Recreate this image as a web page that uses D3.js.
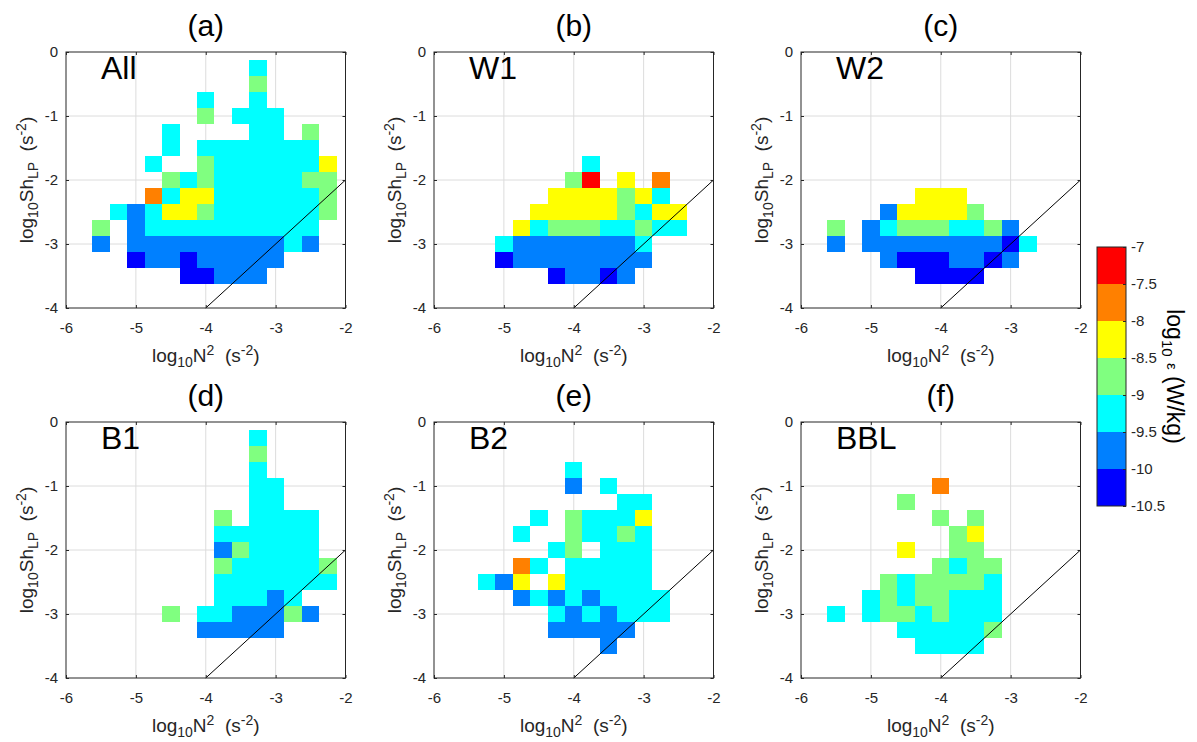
<!DOCTYPE html>
<html>
<head>
<meta charset="utf-8">
<script src="https://cdn.jsdelivr.net/npm/d3@7"></script>
<style>
  body { margin: 0; background: #fff; }
  svg { font-family: "Liberation Sans", Arial, Helvetica, sans-serif; }
  text { white-space: pre; }
</style>
</head>
<body>
<svg id="chart" width="1197" height="742"></svg>
<script>
const _ = null;

// bin centres, bins are 0.25 wide
const n2Bins = [-5.5, -5.25, -5, -4.75, -4.5, -4.25, -4, -3.75, -3.5, -3.25, -3, -2.75, -2.5, -2.25];
const shBins = [-0.25, -0.5, -0.75, -1, -1.25, -1.5, -1.75, -2, -2.25, -2.5, -2.75, -3, -3.25, -3.5];
const none = [_,_,_,_,_,_,_,_,_,_,_,_,_,_];

// log10 epsilon per bin, rows follow shBins, columns follow n2Bins
const epsAll = [
  [_,_,_,_,_,_,_,_,_,-9.2,_,_,_,_],
  [_,_,_,_,_,_,_,_,_,-8.8,_,_,_,_],
  [_,_,_,_,_,_,-9.2,_,_,-9.2,_,_,_,_],
  [_,_,_,_,_,_,-8.8,_,-9.2,-9.2,-9.2,_,_,_],
  [_,_,_,_,-9.2,_,_,_,_,-9.2,-9.2,_,-8.8,_],
  [_,_,_,_,-9.2,_,-9.2,-9.2,-9.2,-9.2,-9.2,-9.2,-9.2,_],
  [_,_,_,-9.2,_,_,-8.8,-9.2,-9.2,-9.2,-9.2,-9.2,-9.2,-8.2],
  [_,_,_,_,-8.8,-9.2,-8.8,-9.2,-9.2,-9.2,-9.2,-9.2,-8.8,-8.8],
  [_,_,_,-7.8,-9.2,-8.2,-8.2,-9.2,-9.2,-9.2,-9.2,-9.2,-9.2,-8.8],
  [_,-9.2,-9.8,-9.2,-8.2,-8.2,-8.8,-9.2,-9.2,-9.2,-9.2,-9.2,-9.2,-8.8],
  [-8.8,_,-9.8,-9.2,-9.2,-9.2,-9.2,-9.2,-9.2,-9.2,-9.2,-9.2,-9.2,_],
  [-9.8,_,-9.8,-9.8,-9.8,-9.8,-9.8,-9.8,-9.8,-9.8,-9.8,-9.2,-9.8,_],
  [_,_,-10.2,-9.8,-9.8,-10.2,-9.8,-9.8,-9.8,-9.8,-9.8,_,_,_],
  [_,_,_,_,_,-10.2,-10.2,-9.8,-9.8,-9.8,_,_,_,_]
];

const epsW1 = [
  none, none, none, none, none, none,
  [_,_,_,_,_,_,_,-9.2,_,_,_,_,_,_],
  [_,_,_,_,_,_,-8.8,-7.2,_,-8.2,_,-7.8,_,_],
  [_,_,_,_,_,-8.2,-8.2,-8.2,-8.2,-8.8,-8.2,-9.2,_,_],
  [_,_,_,_,-8.2,-8.2,-8.2,-8.2,-8.2,-8.8,-9.2,-8.2,-8.2,_],
  [_,_,_,-8.2,-9.2,-8.8,-8.8,-8.8,-9.2,-9.2,-8.8,-9.2,-9.2,_],
  [_,_,-9.2,-9.8,-9.8,-9.8,-9.8,-9.8,-9.8,-9.8,-9.2,_,_,_],
  [_,_,-10.2,-9.8,-9.8,-9.8,-9.8,-9.8,-9.8,-9.8,-9.8,_,_,_],
  [_,_,_,_,_,-10.2,-9.8,-9.8,-10.2,-9.8,_,_,_,_]
];

const epsW2 = [
  none, none, none, none, none, none, none, none,
  [_,_,_,_,_,-8.2,-8.2,-8.2,_,_,_,_,_,_],
  [_,_,_,-9.8,-8.2,-8.2,-8.2,-8.2,-8.8,_,_,_,_,_],
  [-8.8,_,-9.8,-9.2,-8.8,-8.8,-8.8,-9.2,-9.2,-8.8,-9.8,_,_,_],
  [-9.8,_,-9.8,-9.8,-9.8,-9.8,-9.8,-9.8,-9.8,-9.8,-10.2,-9.2,_,_],
  [_,_,_,-9.8,-10.2,-10.2,-10.2,-9.8,-9.8,-10.2,-9.8,_,_,_],
  [_,_,_,_,_,-10.2,-10.2,-10.2,-10.2,_,_,_,_,_]
];

const epsB1 = [
  [_,_,_,_,_,_,_,_,_,-9.2,_,_,_,_],
  [_,_,_,_,_,_,_,_,_,-8.8,_,_,_,_],
  [_,_,_,_,_,_,_,_,_,-9.2,_,_,_,_],
  [_,_,_,_,_,_,_,_,_,-9.2,-9.2,_,_,_],
  [_,_,_,_,_,_,_,_,_,-9.2,-9.2,_,_,_],
  [_,_,_,_,_,_,_,-8.8,_,-9.2,-9.2,-9.2,-9.2,_],
  [_,_,_,_,_,_,_,-9.2,-9.2,-9.2,-9.2,-9.2,-9.2,_],
  [_,_,_,_,_,_,_,-9.8,-8.8,-9.2,-9.2,-9.2,-9.2,_],
  [_,_,_,_,_,_,_,-8.8,-9.2,-9.2,-9.2,-9.2,-9.2,-8.8],
  [_,_,_,_,_,_,_,-9.2,-9.2,-9.2,-9.2,-9.2,-9.2,-9.2],
  [_,_,_,_,_,_,_,-9.2,-9.2,-9.2,-9.8,-9.2,_,_],
  [_,_,_,_,-8.8,_,-9.2,-9.2,-9.8,-9.8,-9.8,-8.8,-9.8,_],
  [_,_,_,_,_,_,-9.8,-9.8,-9.8,-9.8,-9.8,_,_,_],
  none
];

const epsB2 = [
  none, none,
  [_,_,_,_,_,_,-9.2,_,_,_,_,_,_,_],
  [_,_,_,_,_,_,-9.8,_,-9.2,_,_,_,_,_],
  [_,_,_,_,_,_,_,_,_,-9.2,-9.2,_,_,_],
  [_,_,_,_,-9.2,_,-8.8,-9.2,-9.2,-9.2,-8.2,_,_,_],
  [_,_,_,-9.2,_,_,-8.8,-9.2,-9.2,-8.8,-9.2,_,_,_],
  [_,_,_,_,_,-9.2,-8.8,_,-9.2,-9.2,-9.2,_,_,_],
  [_,_,_,-7.8,-9.2,_,-9.2,-9.2,-9.2,-9.2,-9.2,_,_,_],
  [_,-9.2,-9.8,-8.2,_,-8.2,-9.2,-9.2,-9.2,-9.2,-9.2,_,_,_],
  [_,_,_,-9.8,-9.2,-9.8,-9.2,-9.8,-9.2,-9.2,-9.2,-9.2,_,_],
  [_,_,_,_,_,-9.2,-9.8,-9.2,-9.8,-9.2,-9.2,-9.2,_,_],
  [_,_,_,_,_,-9.8,-9.8,-9.8,-9.8,-9.8,_,_,_,_],
  [_,_,_,_,_,_,_,_,-9.8,_,_,_,_,_]
];

const epsBBL = [
  none, none, none,
  [_,_,_,_,_,_,-7.8,_,_,_,_,_,_,_],
  [_,_,_,_,-8.8,_,_,_,_,_,_,_,_,_],
  [_,_,_,_,_,_,-8.8,_,-8.8,_,_,_,_,_],
  [_,_,_,_,_,_,_,-8.8,-8.2,_,_,_,_,_],
  [_,_,_,_,-8.2,_,_,-8.8,-8.8,_,_,_,_,_],
  [_,_,_,_,_,_,-8.8,-9.2,-8.8,-8.8,_,_,_,_],
  [_,_,_,-8.8,-9.2,-8.8,-8.8,-8.8,-8.8,-9.2,_,_,_,_],
  [_,_,-9.2,-8.8,-9.2,-8.8,-8.8,-9.2,-9.2,-9.2,_,_,_,_],
  [-9.2,_,-9.2,-8.8,-8.8,-9.2,-8.8,-9.2,-9.2,-9.2,_,_,_,_],
  [_,_,_,_,-9.2,-9.2,-9.2,-9.2,-9.2,-8.8,_,_,_,_],
  [_,_,_,_,_,-9.2,-9.2,-9.2,-9.2,_,_,_,_,_]
];

const panelData = [epsAll, epsW1, epsW2, epsB1, epsB2, epsBBL];
const panelTitles = ["(a)", "(b)", "(c)", "(d)", "(e)", "(f)"];
const panelNames = ["All", "W1", "W2", "B1", "B2", "BBL"];
const xTicks = [-6, -5, -4, -3, -2];
const yTicks = [0, -1, -2, -3, -4];
const refLine = [[-4, -4], [-2, -2]];
const cbTicks = [-7, -7.5, -8, -8.5, -9, -9.5, -10, -10.5];
const cbColors = ["#0000ff", "#0080ff", "#00ffff", "#80ff80", "#ffff00", "#ff8000", "#ff0000"];

const svg = d3.select("#chart");
const ink = "#262626";
const W = 279.5, H = 256;
const lefts = [66, 434, 801];
const tops = [52, 422];

const color = d3.scaleQuantize().domain([-10.5, -7]).range(cbColors);

// text with tex-like sub/superscripts
function rich(sel, parts, small) {
  let shift = 0;
  parts.forEach(([s, kind]) => {
    const target = kind === "sub" ? 5 : kind === "sup" ? -7 : 0;
    const t = sel.append("tspan").attr("dy", target - shift).text(s);
    if (kind !== "n") t.attr("font-size", small);
    shift = target;
  });
}

panelData.forEach((grid, p) => {
  const left = lefts[p % 3], top = tops[Math.floor(p / 3)];
  const x = d3.scaleLinear().domain([-6, -2]).range([0, W]);
  const y = d3.scaleLinear().domain([0, -4]).range([0, H]);
  const g = svg.append("g").attr("transform", `translate(${left},${top})`);

  // grid lines
  g.append("g").selectAll("line.gx").data(xTicks.slice(1, -1)).join("line")
    .attr("x1", d => x(d)).attr("x2", d => x(d)).attr("y1", 0).attr("y2", H)
    .attr("stroke", "#dcdcdc");
  g.append("g").selectAll("line.gy").data(yTicks.slice(1, -1)).join("line")
    .attr("y1", d => y(d)).attr("y2", d => y(d)).attr("x1", 0).attr("x2", W)
    .attr("stroke", "#dcdcdc");

  const cells = [];
  grid.forEach((row, i) => row.forEach((v, j) => {
    if (v !== null) cells.push({ n2: n2Bins[j], sh: shBins[i], eps: v });
  }));

  g.append("g").attr("shape-rendering", "crispEdges")
    .selectAll("rect").data(cells).join("rect")
    .attr("x", d => x(d.n2 - 0.125))
    .attr("y", d => y(d.sh + 0.125))
    .attr("width", d => x(d.n2 + 0.125) - x(d.n2 - 0.125))
    .attr("height", d => y(d.sh - 0.125) - y(d.sh + 0.125))
    .attr("fill", d => color(d.eps));

  g.append("path")
    .attr("d", d3.line().x(d => x(d[0])).y(d => y(d[1]))(refLine))
    .attr("stroke", "#000").attr("stroke-width", 1).attr("fill", "none");

  // axes, ticks pointing inward on all four sides
  const fmt = d => String(d);
  const axes = [
    [d3.axisBottom(x).tickValues(xTicks).tickFormat(fmt).tickPadding(14), `translate(0,${H})`],
    [d3.axisLeft(y).tickValues(yTicks).tickFormat(fmt).tickPadding(8), null],
    [d3.axisTop(x).tickValues(xTicks).tickFormat(""), null],
    [d3.axisRight(y).tickValues(yTicks).tickFormat(""), `translate(${W},0)`]
  ];
  axes.forEach(([ax, tr]) => {
    const a = g.append("g").attr("transform", tr)
      .call(ax.tickSizeInner(-3).tickSizeOuter(0));
    a.select(".domain").remove();
    a.selectAll("line").attr("stroke", ink);
    a.selectAll("text").attr("fill", ink).style("font-size", "15px")
      .style("font-family", "inherit");
  });

  g.append("rect").attr("width", W).attr("height", H)
    .attr("fill", "none").attr("stroke", ink).attr("stroke-width", 1);

  g.append("text").attr("x", W / 2).attr("y", -16).attr("text-anchor", "middle")
    .attr("font-size", 30).attr("fill", "#000").text(panelTitles[p]);

  g.append("text").attr("x", 35).attr("y", 27)
    .attr("font-size", 32).attr("fill", "#000").text(panelNames[p]);

  const xl = g.append("text").attr("x", W / 2).attr("y", H + 54)
    .attr("text-anchor", "middle").attr("font-size", 19).attr("fill", ink);
  rich(xl, [["log", "n"], ["10", "sub"], ["N", "n"], ["2", "sup"], ["  (s", "n"], ["-2", "sup"], [")", "n"]], 14);

  const yl = g.append("text")
    .attr("transform", `translate(-33,${H / 2}) rotate(-90)`)
    .attr("text-anchor", "middle").attr("font-size", 19).attr("fill", ink);
  rich(yl, [["log", "n"], ["10", "sub"], ["Sh", "n"], ["LP", "sub"], ["  (s", "n"], ["-2", "sup"], [")", "n"]], 14);
});

// colorbar
const cbX = 1097, cbW = 29;
const cbY = d3.scaleLinear().domain([-10.5, -7]).range([506, 247]);
const cb = svg.append("g");
cb.append("g").attr("shape-rendering", "crispEdges")
  .selectAll("rect").data(cbColors).join("rect")
  .attr("x", cbX).attr("width", cbW)
  .attr("y", (c, i) => cbY(color.invertExtent(c)[1]))
  .attr("height", (c, i) => cbY(color.invertExtent(c)[0]) - cbY(color.invertExtent(c)[1]))
  .attr("fill", c => c);
cb.append("rect").attr("x", cbX).attr("y", cbY(-7)).attr("width", cbW)
  .attr("height", cbY(-10.5) - cbY(-7)).attr("fill", "none").attr("stroke", ink);
const cbAxis = cb.append("g").attr("transform", `translate(${cbX + cbW},0)`)
  .call(d3.axisRight(cbY).tickValues(cbTicks).tickFormat(d => String(d))
    .tickSizeInner(-3).tickSizeOuter(0).tickPadding(5));
cbAxis.select(".domain").remove();
cbAxis.selectAll("line").attr("stroke", ink);
cbAxis.selectAll("text").attr("fill", ink).style("font-size", "15px").style("font-family", "inherit");

const cl = svg.append("text")
  .attr("transform", `translate(1167,${(cbY(-7) + cbY(-10.5)) / 2}) rotate(90)`)
  .attr("text-anchor", "middle").attr("font-size", 23).attr("fill", "#000");
rich(cl, [["log", "n"], ["10", "sub"], [" ", "n"], ["\u03b5", "small"], [" (W/kg)", "n"]], 15);
</script>
</body>
</html>
